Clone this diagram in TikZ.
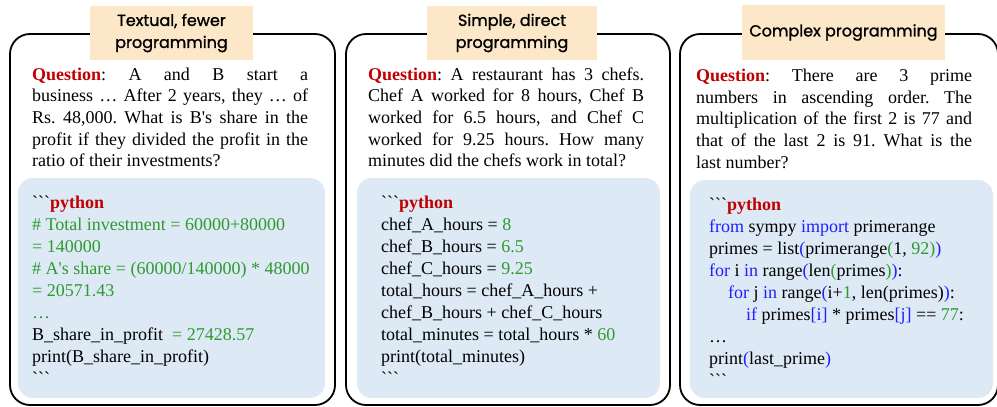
\documentclass[tikz,border=0pt]{standalone}
\usepackage{fontspec}
\newfontfamily\serifface{Liberation Serif}
\newfontfamily\titleface{Poppins}[FakeBold=1.2]
\definecolor{qred}{HTML}{C00000}
\definecolor{cgreen}{HTML}{2E9A2E}
\definecolor{cblue}{HTML}{1F1FFF}
\definecolor{codebg}{HTML}{DDEAF6}
\definecolor{labelbg}{HTML}{FCE8C8}
\newcommand\tripletick{\char"60\char"60\char"60}
\newcommand\qlabel{\textcolor{qred}{\textbf{Question}}:}
\newcommand\pyhead{\tripletick\textcolor{qred}{\textbf{python}}}
\newcommand\sline[1]{\makebox[276pt][s]{#1}}
\newcommand\gr[1]{\textcolor{cgreen}{#1}}
\newcommand\bl[1]{\textcolor{cblue}{#1}}
\frenchspacing
\begin{document}
\begin{tikzpicture}[x=1pt,y=-1pt,
  panel/.style={draw=black, line width=1.8pt, rounded corners=20pt},
  codebox/.style={fill=codebg, rounded corners=15pt},
  tlabel/.style={fill=labelbg, inner sep=0pt, align=center,
    font=\titleface\fontsize{16}{22}\selectfont},
  qtext/.style={inner sep=0pt, anchor=base west,
    font=\serifface\fontsize{18}{21.7}\selectfont},
  ctext/.style={inner sep=0pt, anchor=base west,
    font=\serifface\fontsize{18}{22}\selectfont},
]
\useasboundingbox (0,0) rectangle (997,407);

% panels
\draw[panel] (10,34) rectangle (335,405);
\draw[panel] (346,34) rectangle (670,405);
\draw[panel] (680,34) rectangle (998,405);

% code backgrounds
\fill[codebox] (18,178) rectangle (325,398);
\fill[codebox] (357,178) rectangle (660,398);
\fill[codebox] (690,180) rectangle (993,398);

% title labels
\node[tlabel, minimum width=163pt, minimum height=54pt] (t1) at (171.5,33) {Textual, fewer\\programming};
\node[tlabel, minimum width=170pt, minimum height=54pt] (t2) at (512,33) {Simple, direct\\programming};
\node[tlabel, minimum width=203pt, minimum height=55pt] (t3) at (843.5,32.5) {Complex programming};

% questions
\node[qtext] (q1) at (32,80) {\parbox[t]{276pt}{%
\sline{\qlabel{} A and B start a}\\
\sline{business … After 2 years, they … of}\\
\sline{Rs. 48,000. What is B's share in the}\\
\sline{profit if they divided the profit in the}\\
ratio of their investments?}};

\node[qtext] (q2) at (368,80) {\parbox[t]{276pt}{%
\sline{\qlabel{} A restaurant has 3 chefs.}\\
\sline{Chef A worked for 8 hours, Chef B}\\
\sline{worked for 6.5 hours, and Chef C}\\
\sline{worked for 9.25 hours. How many}\\
minutes did the chefs work in total?}};

\node[qtext] (q3) at (696,81.5) {\parbox[t]{276pt}{%
\sline{\qlabel{} There are 3 prime}\\
\sline{numbers in ascending order. The}\\
\sline{multiplication of the first 2 is 77 and}\\
\sline{that of the last 2 is 91. What is the}\\
last number?}};

% code
\node[ctext] (c1) at (32,208) {\parbox[t]{300pt}{\raggedright
\pyhead\\
\gr{\# Total investment = 60000+80000}\\
\gr{= 140000}\\
\gr{\# A's share = (60000/140000) * 48000}\\
\gr{= 20571.43}\\
\gr{…}\\
B\_share\_in\_profit\ \ \gr{= 27428.57}\\
print(B\_share\_in\_profit)\\
\tripletick}};

\node[ctext] (c2) at (381,208) {\parbox[t]{280pt}{\raggedright
\pyhead\\
chef\_A\_hours = \gr{8}\\
chef\_B\_hours = \gr{6.5}\\
chef\_C\_hours = \gr{9.25}\\
total\_hours = chef\_A\_hours +\\
chef\_B\_hours + chef\_C\_hours\\
total\_minutes = total\_hours * \gr{60}\\
print(total\_minutes)\\
\tripletick}};

\node[ctext] (c3) at (709,210) {\parbox[t]{280pt}{\raggedright
\pyhead\\
\bl{from} sympy \bl{import} primerange\\
primes = list\bl{(}primerange\gr{(}1, \gr{92)}\bl{)}\\
\bl{for} i \bl{in} range\bl{(}len\gr{(}primes\gr{)}\bl{)}:\\
\hspace*{19pt}\bl{for} j \bl{in} range\bl{(}i+\gr{1}, len(primes)\bl{)}:\\
\hspace*{37pt}\bl{if} primes\bl{[i]} * primes\bl{[j]} == \gr{77}:\\
…\\
print\bl{(}last\_prime\bl{)}\\
\tripletick}};
\end{tikzpicture}
\end{document}
